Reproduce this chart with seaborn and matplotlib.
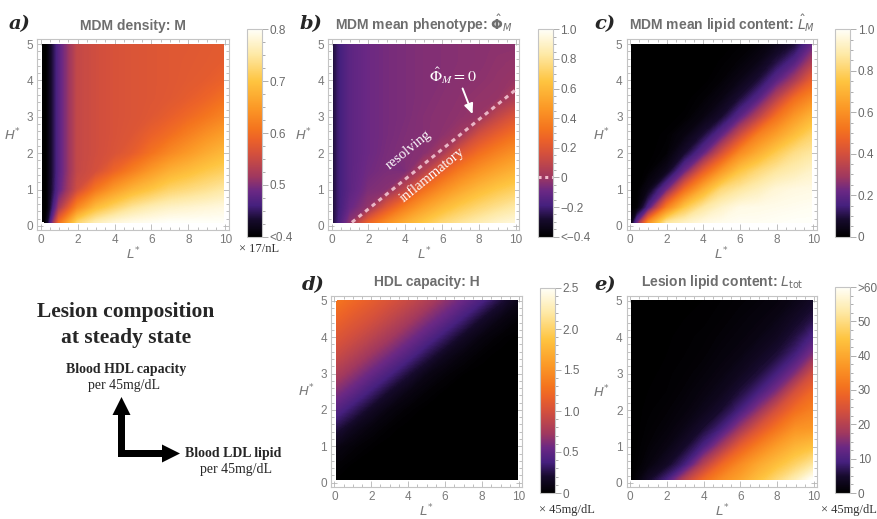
import numpy as np
import matplotlib
matplotlib.use("Agg")
import matplotlib.pyplot as plt
import seaborn as sns
from matplotlib.colors import LinearSegmentedColormap, Normalize
from matplotlib.cm import ScalarMappable
from matplotlib.patches import FancyArrow
from matplotlib.ticker import MultipleLocator

sns.set_theme(style="white")
plt.rcParams["font.family"] = ["Liberation Sans", "DejaVu Sans"]

# ---------------- data ----------------
L_star = [0.1, 0.4, 1, 2, 3, 4, 5, 6, 7, 8, 9, 9.9]
H_star = [0.1, 0.5, 1, 1.5, 2, 2.5, 3, 3.5, 4, 4.5, 5]

# rows: H_star ascending, columns: L_star ascending
M_density = [
    [0.38, 0.43, 0.60, 0.72, 0.76, 0.78, 0.79, 0.795, 0.80, 0.80, 0.80, 0.80],
    [0.38, 0.41, 0.52, 0.63, 0.69, 0.72, 0.745, 0.76, 0.77, 0.775, 0.78, 0.785],
    [0.38, 0.41, 0.48, 0.555, 0.61, 0.65, 0.68, 0.70, 0.72, 0.73, 0.74, 0.75],
    [0.38, 0.41, 0.475, 0.545, 0.56, 0.59, 0.62, 0.65, 0.675, 0.69, 0.705, 0.715],
    [0.38, 0.41, 0.475, 0.545, 0.556, 0.565, 0.58, 0.605, 0.63, 0.65, 0.67, 0.685],
    [0.38, 0.41, 0.475, 0.545, 0.556, 0.563, 0.57, 0.585, 0.60, 0.62, 0.64, 0.655],
    [0.38, 0.41, 0.475, 0.545, 0.556, 0.563, 0.567, 0.572, 0.582, 0.595, 0.61, 0.625],
    [0.38, 0.41, 0.475, 0.545, 0.556, 0.563, 0.567, 0.57, 0.573, 0.58, 0.59, 0.603],
    [0.38, 0.41, 0.475, 0.545, 0.556, 0.563, 0.567, 0.57, 0.572, 0.575, 0.579, 0.586],
    [0.38, 0.41, 0.475, 0.545, 0.556, 0.563, 0.567, 0.57, 0.572, 0.574, 0.576, 0.579],
    [0.38, 0.41, 0.475, 0.545, 0.556, 0.563, 0.567, 0.57, 0.572, 0.573, 0.575, 0.577],
]

phi_mean = [
    [-0.27, -0.18, -0.03, 0.25, 0.42, 0.55, 0.65, 0.74, 0.80, 0.85, 0.90, 0.93],
    [-0.27, -0.20, -0.10, -0.016, 0.20, 0.37, 0.50, 0.60, 0.68, 0.74, 0.79, 0.83],
    [-0.27, -0.20, -0.13, -0.06, -0.04, 0.10, 0.30, 0.42, 0.52, 0.60, 0.66, 0.70],
    [-0.27, -0.20, -0.13, -0.08, -0.06, -0.06, 0.06, 0.24, 0.36, 0.45, 0.52, 0.57],
    [-0.27, -0.20, -0.13, -0.09, -0.065, -0.05, -0.04, 0.02, 0.19, 0.30, 0.38, 0.44],
    [-0.27, -0.20, -0.13, -0.09, -0.07, -0.055, -0.045, -0.03, 0.005, 0.15, 0.24, 0.31],
    [-0.27, -0.20, -0.13, -0.09, -0.07, -0.06, -0.045, -0.035, -0.025, -0.01, 0.10, 0.18],
    [-0.27, -0.20, -0.13, -0.09, -0.07, -0.06, -0.05, -0.04, -0.03, -0.02, -0.015, 0.04],
    [-0.27, -0.20, -0.13, -0.09, -0.07, -0.06, -0.05, -0.045, -0.035, -0.03, -0.02, -0.01],
    [-0.27, -0.20, -0.13, -0.09, -0.07, -0.06, -0.05, -0.045, -0.04, -0.035, -0.025, -0.02],
    [-0.27, -0.20, -0.13, -0.09, -0.07, -0.06, -0.05, -0.045, -0.04, -0.035, -0.03, -0.03],
]
# dashed boundary where the mean phenotype is zero
phi_zero_L = [1.1, 10.0]
phi_zero_H = [0.1, 3.75]

lipid_mean = [
    [0.05, 0.22, 0.58, 0.86, 0.92, 0.96, 0.98, 0.99, 0.99, 0.995, 1.0, 1.0],
    [0.0, 0.01, 0.17, 0.55, 0.76, 0.87, 0.93, 0.97, 0.975, 0.98, 0.985, 0.99],
    [0.0, 0.0, 0.04, 0.22, 0.50, 0.68, 0.82, 0.87, 0.91, 0.95, 0.965, 0.97],
    [0.0, 0.0, 0.005, 0.05, 0.22, 0.45, 0.62, 0.75, 0.82, 0.87, 0.90, 0.93],
    [0.0, 0.0, 0.0, 0.01, 0.08, 0.20, 0.40, 0.58, 0.68, 0.77, 0.84, 0.87],
    [0.0, 0.0, 0.0, 0.005, 0.03, 0.09, 0.20, 0.38, 0.55, 0.64, 0.73, 0.80],
    [0.0, 0.0, 0.0, 0.0, 0.005, 0.03, 0.08, 0.19, 0.34, 0.51, 0.62, 0.70],
    [0.0, 0.0, 0.0, 0.0, 0.0, 0.01, 0.035, 0.09, 0.18, 0.34, 0.50, 0.58],
    [0.0, 0.0, 0.0, 0.0, 0.0, 0.0, 0.012, 0.04, 0.09, 0.19, 0.31, 0.45],
    [0.0, 0.0, 0.0, 0.0, 0.0, 0.0, 0.004, 0.015, 0.04, 0.10, 0.18, 0.31],
    [0.0, 0.0, 0.0, 0.0, 0.0, 0.0, 0.0, 0.005, 0.015, 0.045, 0.09, 0.20],
]

hdl_capacity = [
    [0.005, 0.0, 0.0, 0.0, 0.0, 0.0, 0.0, 0.0, 0.0, 0.0, 0.0, 0.0],
    [0.03, 0.02, 0.005, 0.0, 0.0, 0.0, 0.0, 0.0, 0.0, 0.0, 0.0, 0.0],
    [0.09, 0.07, 0.04, 0.01, 0.0, 0.0, 0.0, 0.0, 0.0, 0.0, 0.0, 0.0],
    [0.25, 0.21, 0.13, 0.055, 0.015, 0.0, 0.0, 0.0, 0.0, 0.0, 0.0, 0.0],
    [0.45, 0.40, 0.31, 0.16, 0.065, 0.02, 0.0, 0.0, 0.0, 0.0, 0.0, 0.0],
    [0.62, 0.58, 0.50, 0.35, 0.19, 0.085, 0.03, 0.003, 0.0, 0.0, 0.0, 0.0],
    [0.79, 0.75, 0.67, 0.53, 0.39, 0.23, 0.10, 0.04, 0.008, 0.0, 0.0, 0.0],
    [0.94, 0.90, 0.83, 0.70, 0.57, 0.43, 0.27, 0.13, 0.055, 0.015, 0.0, 0.0],
    [1.06, 1.03, 0.97, 0.86, 0.74, 0.60, 0.46, 0.31, 0.16, 0.065, 0.02, 0.003],
    [1.18, 1.15, 1.09, 1.00, 0.89, 0.77, 0.63, 0.50, 0.35, 0.19, 0.085, 0.035],
    [1.30, 1.27, 1.21, 1.12, 1.02, 0.92, 0.80, 0.66, 0.53, 0.39, 0.23, 0.11],
]

lipid_total = [
    [0.2, 1.2, 4, 9, 20, 29, 35, 39, 44, 49, 54, 60],
    [0.1, 0.4, 1.5, 4, 9, 20, 29, 35, 40, 44, 48, 52],
    [0.1, 0.2, 0.8, 2, 4.5, 9.5, 18, 27, 33, 38, 42, 44],
    [0.1, 0.1, 0.5, 1.1, 2.5, 5, 9, 17, 25, 31, 36, 37],
    [0.1, 0.1, 0.3, 0.7, 1.4, 2.8, 5, 9, 16, 24, 30, 33],
    [0.1, 0.1, 0.2, 0.4, 0.9, 1.8, 3, 5.5, 9, 15, 24, 29],
    [0.1, 0.1, 0.1, 0.3, 0.6, 1.1, 2, 3.3, 5.5, 9, 15, 23],
    [0.1, 0.1, 0.1, 0.2, 0.4, 0.7, 1.3, 2.1, 3.5, 5.5, 9, 15],
    [0.1, 0.1, 0.1, 0.15, 0.3, 0.5, 0.9, 1.4, 2.2, 3.5, 6, 9.5],
    [0.1, 0.1, 0.1, 0.1, 0.2, 0.3, 0.6, 1, 1.5, 2.3, 4, 6],
    [0.1, 0.1, 0.1, 0.1, 0.1, 0.2, 0.4, 0.7, 1, 1.5, 2.5, 4],
]

titles = ["MDM density: M",
          r"MDM mean phenotype: $\hat{\mathbf{\Phi}}_{M}$",
          r"MDM mean lipid content: $\hat{L}_{M}$",
          "HDL capacity: H",
          r"Lesion lipid content: $L_{\mathrm{tot}}$"]
tags = ["a)", "b)", "c)", "d)", "e)"]
x_ticks = [0, 2, 4, 6, 8, 10]
y_ticks = [0, 1, 2, 3, 4, 5]

cb_ticks = [[0.4, 0.5, 0.6, 0.7, 0.8],
            [-0.4, -0.2, 0, 0.2, 0.4, 0.6, 0.8, 1.0],
            [0, 0.2, 0.4, 0.6, 0.8, 1.0],
            [0, 0.5, 1.0, 1.5, 2.0, 2.5],
            [0, 10, 20, 30, 40, 50, 60]]
cb_labels = [["<0.4", "0.5", "0.6", "0.7", "0.8"],
             ["<\u22120.4", "\u22120.2", "0", "0.2", "0.4", "0.6", "0.8", "1.0"],
             ["0", "0.2", "0.4", "0.6", "0.8", "1.0"],
             ["0", "0.5", "1.0", "1.5", "2.0", "2.5"],
             ["0", "10", "20", "30", "40", "50", ">60"]]
cb_minor = [0.025, 0.05, 0.05, 0.1, 2.5]
units = ["\u00d7 17/nL", None, None, "\u00d7 45mg/dL", "\u00d7 45mg/dL"]

# ---------------- layout (pixel boxes) ----------------
W, H = 877, 519
fig = plt.figure(figsize=(W / 100, H / 100), dpi=100)


def rect(l, t, r, b):
    return [l / W, 1 - b / H, (r - l) / W, (b - t) / H]


ax_boxes = [(37.3, 39.3, 228.7, 230), (328.3, 39.3, 519.3, 230), (626.7, 39.3, 816.7, 230),
            (331, 296, 522.3, 486.7), (626.7, 296, 817.3, 487)]
cb_boxes = [(247, 29.3, 262, 236.7), (537.5, 29.3, 552.5, 236.7), (835, 29.3, 850, 236.7),
            (540, 288, 555, 493), (835, 287, 850, 493)]
tag_xy = [(9, 24), (300, 24), (594, 24), (302, 285), (594, 285)]
unit_xy = [(259, 249), None, None, (567, 510), (849, 510)]

stops = [(0.00, "#000000"), (0.08, "#160a2c"), (0.15, "#46207e"), (0.22, "#6a2884"),
         (0.29, "#a0385f"), (0.40, "#d4503c"), (0.47, "#ec6228"), (0.52, "#f4741e"),
         (0.62, "#fb9826"), (0.75, "#fec440"), (0.88, "#fee9a6"), (1.00, "#fffff8")]
cmap = LinearSegmentedColormap.from_list("sunset", stops, N=512)
cmap.set_under("#000000")
cmap.set_over("#fffff8")

fields = [M_density, phi_mean, lipid_mean, hdl_capacity, lipid_total]
Xg, Yg = np.meshgrid(L_star, H_star)

grey_lab = "#7a7a7a"
frame_col = "#c4c4c4"

axes = []
caxes = []
for i, Z in enumerate(fields):
    Z = np.array(Z, dtype=float)
    vmin, vmax = cb_ticks[i][0], cb_ticks[i][-1]
    ax = fig.add_axes(rect(*ax_boxes[i]))
    axes.append(ax)
    ax.contourf(Xg, Yg, Z, levels=np.linspace(vmin, vmax, 301), cmap=cmap,
                extend="both", antialiased=False)
    ax.set_xlim(-0.18, 10.18)
    ax.set_ylim(-0.11, 5.13)
    ax.set_xticks(x_ticks)
    ax.set_yticks(y_ticks)
    ax.xaxis.set_minor_locator(MultipleLocator(0.5))
    ax.yaxis.set_minor_locator(MultipleLocator(0.2))
    ax.tick_params(which="both", direction="in", top=True, right=True, bottom=True, left=True,
                   color="#b4b4b4", width=0.6, labelcolor=grey_lab, labelsize=8.5, pad=3)
    ax.tick_params(which="major", length=4)
    ax.tick_params(which="minor", length=2)
    for s in ax.spines.values():
        s.set_color(frame_col)
        s.set_linewidth(0.8)
    ax.set_xlabel(r"$L^{*}$", color=grey_lab, fontsize=9.5, labelpad=0)
    ax.set_ylabel(r"$H^{*}$", color=grey_lab, fontsize=9.5, rotation=0, labelpad=10, va="center")
    ax.set_title(titles[i], fontsize=10, fontweight="bold", color="#6e6e6e", pad=7)

    cax = fig.add_axes(rect(*cb_boxes[i]))
    caxes.append(cax)
    cb = fig.colorbar(ScalarMappable(norm=Normalize(vmin, vmax), cmap=cmap), cax=cax)
    cb.outline.set_edgecolor(frame_col)
    cb.outline.set_linewidth(0.8)
    cb.set_ticks(cb_ticks[i], labels=cb_labels[i])
    cax.yaxis.set_minor_locator(MultipleLocator(cb_minor[i]))
    cax.tick_params(which="both", direction="out", color="#a0a0a0", width=0.6,
                    labelcolor="#6a6a6a", labelsize=8.5, pad=1.5)
    cax.tick_params(which="major", length=4)
    cax.tick_params(which="minor", length=2)

    fig.text(tag_xy[i][0] / W, 1 - tag_xy[i][1] / H, tags[i], fontsize=14, fontweight="bold",
             fontstyle="italic", family="DejaVu Serif", ha="left", va="center")
    if units[i]:
        fig.text(unit_xy[i][0] / W, 1 - unit_xy[i][1] / H, units[i], fontsize=9,
                 family="Liberation Serif", color="#333333", ha="center", va="center")

# panel b: zero boundary and annotations
axb = axes[1]
axb.plot(phi_zero_L, phi_zero_H, color="#e9b6c6", lw=2.2, ls=(0, (1.4, 1.4)))
axb.text(4.2, 2.1, "resolving", rotation=39, color="white", fontsize=10.5,
         family="Liberation Serif", ha="center", va="center")
axb.text(5.45, 1.4, "inflammatory", rotation=39, color="white", fontsize=10.5,
         family="Liberation Serif", ha="center", va="center")
axb.text(6.6, 4.12, r"$\hat{\Phi}_{M}=0$", color="white", fontsize=11.5,
         math_fontfamily="stix", ha="center", va="center")
axb.annotate("", xy=(7.7, 3.0), xytext=(7.05, 3.85),
             arrowprops=dict(arrowstyle="-|>,head_length=0.5,head_width=0.22",
                             color="white", lw=1.4))
caxes[1].axhline(0, color="#f0bccb", lw=2.2, ls=(0, (1, 1.2)))

# overlay for the legend-like text block
ov = fig.add_axes([0, 0, 1, 1])
ov.set_xlim(0, W)
ov.set_ylim(H, 0)
ov.axis("off")
ov.patch.set_alpha(0)
serif = "Liberation Serif"
ov.text(126, 312, "Lesion composition", fontsize=15.5, fontweight="bold", family=serif,
        ha="center", va="center")
ov.text(126, 338, "at steady state", fontsize=15.5, fontweight="bold", family=serif,
        ha="center", va="center")
ov.text(126, 369, "Blood HDL capacity", fontsize=10, fontweight="bold", family=serif,
        ha="center", va="center")
ov.text(124, 386, "per 45mg/dL", fontsize=10, family=serif, ha="center", va="center")
ov.text(185, 453, "Blood LDL lipid", fontsize=10, fontweight="bold", family=serif,
        ha="left", va="center")
ov.text(236, 470, "per 45mg/dL", fontsize=10, family=serif, ha="center", va="center")
ov.add_patch(FancyArrow(121.5, 457, 0, -60, width=7, head_width=18, head_length=18,
                        length_includes_head=True, color="black", lw=0))
ov.add_patch(FancyArrow(118, 453.5, 62, 0, width=7, head_width=18, head_length=18,
                        length_includes_head=True, color="black", lw=0))

fig.savefig("out.png", dpi=100)
